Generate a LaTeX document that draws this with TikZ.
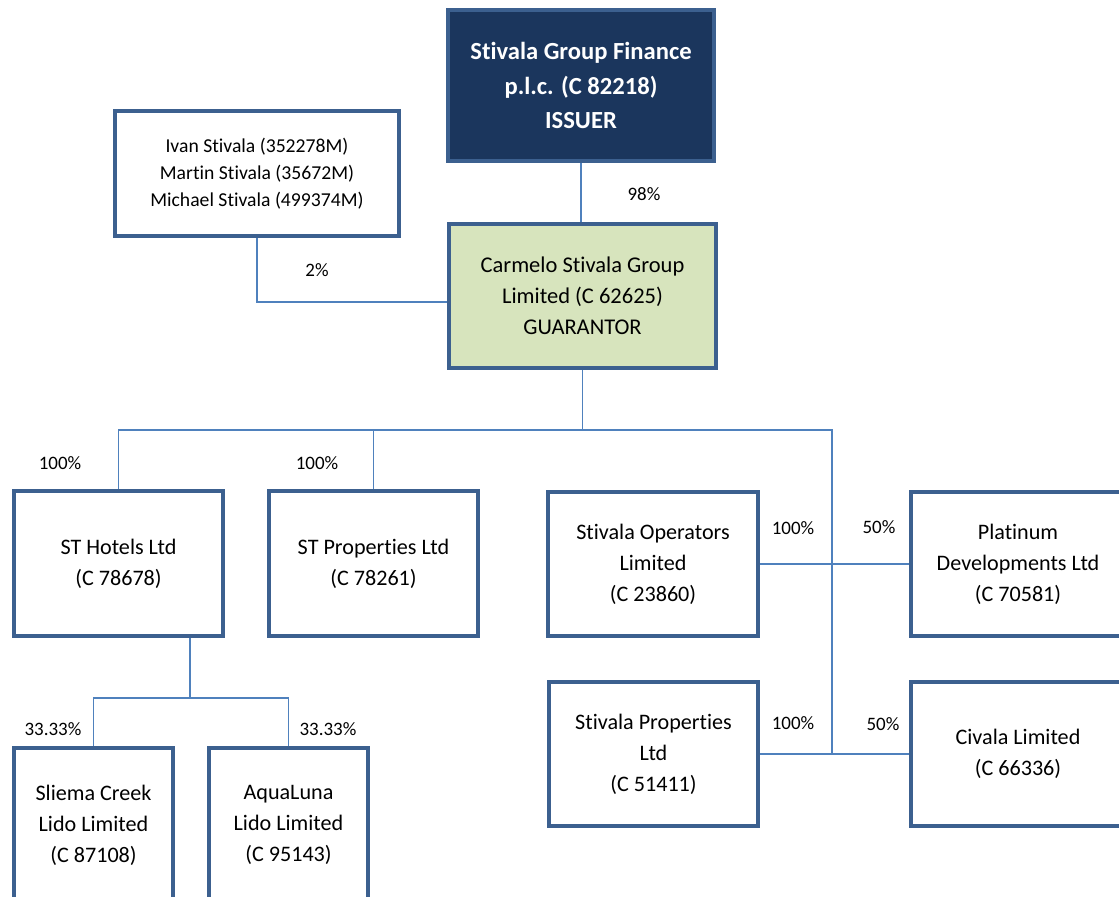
\documentclass[tikz,border=0pt]{standalone}
\usepackage{fontspec}
\setmainfont{Carlito}[Ligatures=NoCommon, RawFeature=-liga]
\usetikzlibrary{positioning}

\definecolor{issuernavy}{HTML}{1B365D}
\definecolor{boxblue}{HTML}{3C608F}
\definecolor{guargreen}{HTML}{D7E4BD}
\definecolor{linkblue}{HTML}{4F81BD}

\begin{document}
\begin{tikzpicture}[x=0.02cm, y=-0.02cm,
  firm/.style={draw=boxblue, line width=2.2pt, fill=white, align=center,
               inner sep=0pt, font=\fontsize{12.6}{17.6}\selectfont},
  issuerbox/.style={firm, fill=issuernavy, text=white,
               font=\fontsize{14}{19.6}\selectfont\bfseries},
  guarbox/.style={firm, fill=guargreen, font=\fontsize{12.8}{17.6}\selectfont},
  link/.style={draw=linkblue, line width=0.9pt},
  pct/.style={font=\fontsize{10.8}{12}\selectfont},
]
\clip (0,0) rectangle (1119,896);

% === Top: issuer, holders, guarantor ===
\node[issuerbox, minimum width=5.32cm, minimum height=3.02cm] (issuer) at (581,85.5)
  {Stivala Group Finance\\p.l.c. (C 82218)\\ISSUER};
\node[firm, minimum width=5.68cm, minimum height=2.5cm,
      font=\fontsize{11.2}{15.3}\selectfont] (holders) at (257,173.5)
  {Ivan Stivala (352278M)\\Martin Stivala (35672M)\\Michael Stivala (499374M)};
\node[guarbox, minimum width=5.34cm, minimum height=2.88cm] (guarantor) at (582.5,296)
  {Carmelo Stivala Group\\Limited (C 62625)\\GUARANTOR};

% === Subsidiaries ===
\node[firm, minimum width=4.18cm, minimum height=2.9cm] (sthotels) at (118.5,563.5)
  {ST Hotels Ltd\\(C 78678)};
\node[firm, minimum width=4.18cm, minimum height=2.9cm] (stprop) at (373.5,563.5)
  {ST Properties Ltd\\(C 78261)};
\node[firm, minimum width=4.2cm, minimum height=2.88cm] (stops) at (653,564)
  {Stivala Operators\\Limited\\(C 23860)};
\node[firm, minimum width=4.28cm, minimum height=2.88cm] (platinum) at (1018,564)
  {Platinum\\Developments Ltd\\(C 70581)};
\node[firm, minimum width=4.18cm, minimum height=2.88cm] (stsprop) at (653.5,754)
  {Stivala Properties\\Ltd\\(C 51411)};
\node[firm, minimum width=4.28cm, minimum height=2.88cm] (civala) at (1018,754)
  {Civala Limited\\(C 66336)};
\node[firm, minimum width=3.18cm, minimum height=3.08cm] (sliema) at (93.5,825)
  {Sliema Creek\\Lido Limited\\(C 87108)};
\node[firm, minimum width=3.18cm, minimum height=3.08cm] (aqualuna) at (288.5,825)
  {AquaLuna\\Lido Limited\\(C 95143)};

% === Connectors ===
\coordinate (spine) at (832,430);
\coordinate (lidos) at (190,698);
\draw[link] (issuer.south) -- (issuer.south |- guarantor.north);
\draw[link] (holders.south) |- ([yshift=-3.4pt]guarantor.west);
\draw[link] (guarantor.south) -- (guarantor.south |- spine);
\draw[link] (sthotels.north) |- (spine) -- (spine |- stsprop.east);
\draw[link] (stprop.north) -- (stprop.north |- spine);
\draw[link] (stops.east) -- (platinum.west);
\draw[link] (stsprop.east) -- (civala.west);
\draw[link] (sthotels.south -| lidos) -- (lidos);
\draw[link] (sliema.north) |- (lidos) -| (aqualuna.north);

% === Percentages ===
\node[pct] (p98) at (644,194) {98\%};
\node[pct] (p2) at (317,270) {2\%};
\node[pct] (phot) at (60,463) {100\%};
\node[pct] (pprop) at (317,463) {100\%};
\node[pct] (pops) at (793,528) {100\%};
\node[pct] (pplat) at (879,527) {50\%};
\node[pct] (psprop) at (793,723) {100\%};
\node[pct] (pciv) at (883,724) {50\%};
\node[pct] (psli) at (53,729) {33.33\%};
\node[pct] (paqua) at (328,729) {33.33\%};

\end{tikzpicture}
\end{document}
